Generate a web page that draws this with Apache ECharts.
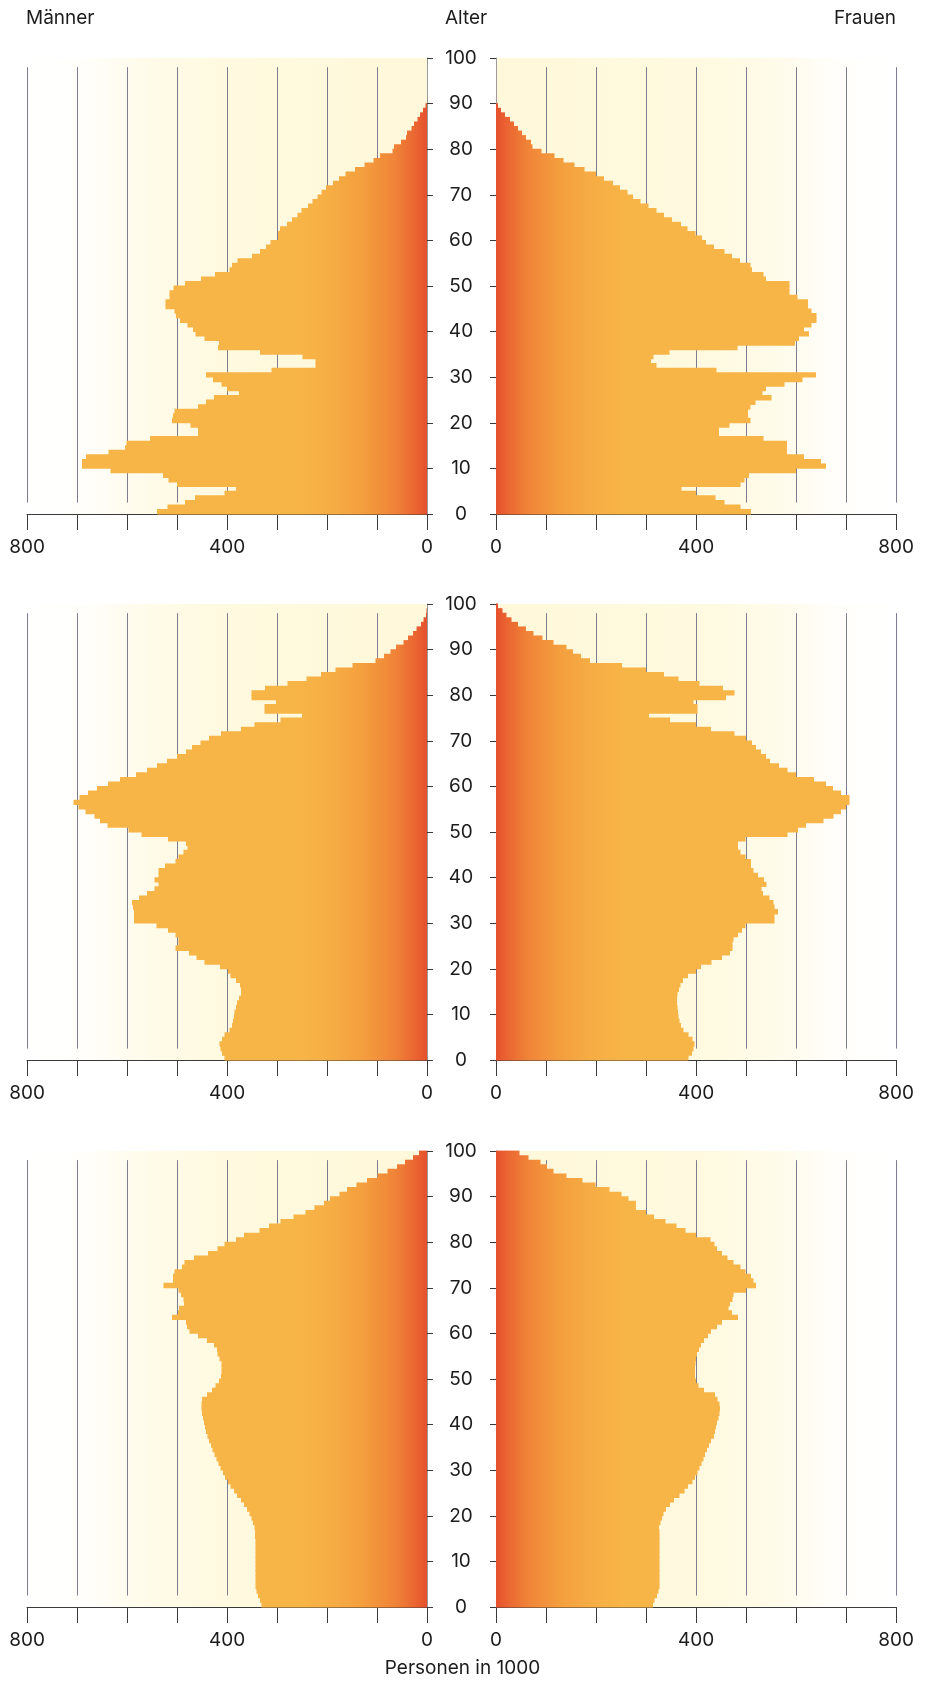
<!DOCTYPE html>
<html>
<head>
<meta charset="utf-8">
<script src="https://cdn.jsdelivr.net/npm/echarts/dist/echarts.min.js"></script>
<style>
html,body{margin:0;padding:0;background:#fff;}
#c{width:925px;height:1683px;}
</style>
</head>
<body>
<div id="c"></div>
<script>
// ---------- DATA (thousands of persons, index = age 0..99) ----------
const men1 = [540,519,484,464,405,382,500,517,528,633,690,690,682,637,604,601,554,458,458,473,510,508,505,458,442,426,376,400,411,428,442,311,223,223,249,334,418,416,445,463,468,479,494,502,505,523,523,515,515,507,484,452,424,395,390,379,350,334,322,313,298,298,294,280,270,259,251,238,229,219,211,202,188,176,163,144,125,107,94,69,66,52,42,40,31,26,19,14,8,3,0,0,0,0,0,0,0,0,0,0];
const women1 = [510,489,457,439,400,371,489,497,506,600,660,650,616,582,582,582,535,446,446,467,509,504,504,509,519,551,533,540,577,613,640,441,321,310,315,347,483,598,606,626,616,631,641,641,631,624,624,603,587,587,587,540,535,512,509,488,472,457,436,420,412,399,383,370,352,336,321,305,289,274,263,248,234,216,200,177,157,135,117,91,73,70,60,52,44,36,28,18,10,4,0,0,0,0,0,0,0,0,0,0];
const men2 = [405,410,413,415,410,405,395,390,388,386,385,382,380,376,372,372,374,382,393,398,414,445,461,476,503,497,497,503,518,541,586,586,586,588,590,576,560,545,537,545,537,537,524,503,497,487,479,482,518,571,597,639,654,665,683,697,707,695,678,660,638,614,582,560,540,520,500,482,470,453,436,412,372,345,293,250,325,325,302,351,351,324,279,241,212,183,149,103,86,73,62,47,38,28,21,12,7,2,1,0];
const women2 = [385,392,395,397,393,385,375,370,367,365,364,363,362,362,363,366,369,374,384,400,410,431,452,468,473,473,475,484,492,499,557,557,564,557,555,547,534,531,541,536,524,515,510,510,499,489,484,484,499,583,604,620,655,675,690,700,707,707,690,674,660,636,600,583,566,548,540,530,520,512,500,477,430,400,348,306,403,403,395,460,477,454,407,365,336,300,252,188,170,154,141,115,93,75,60,44,31,21,13,4];
const men3 = [331,334,338,341,343,343,343,343,343,343,343,343,343,343,343,344,344,345,348,351,355,360,366,372,380,386,393,398,404,408,413,417,421,425,429,432,436,439,442,444,446,448,450,451,451,450,440,430,423,416,412,411,411,411,415,419,420,426,440,458,475,480,482,510,498,496,486,487,492,497,527,508,508,505,490,485,466,438,419,405,382,366,335,316,293,267,243,225,206,194,175,160,141,120,99,79,60,44,28,16];
const women3 = [314,317,322,325,327,327,327,327,327,327,327,327,327,327,327,327,327,326,329,332,335,340,348,356,367,377,384,393,398,403,407,411,415,418,422,426,430,436,438,440,442,445,447,448,447,443,438,416,405,400,398,398,398,399,400,402,406,410,416,424,430,442,452,484,472,465,468,473,475,500,520,515,510,499,489,475,463,452,442,437,429,400,379,361,339,316,300,280,280,265,251,227,199,173,141,115,102,89,65,47];

const ageTicks = [0,10,20,30,40,50,60,70,80,90,100];
const popTicks = [0,100,200,300,400,500,600,700,800];
const popLabels = [0,400,800];
const gridLineValues = [100,200,300,400,500,600,700,800];

const titleLeft = 'Männer';
const titleMid = 'Alter';
const titleRight = 'Frauen';
const xTitle = 'Personen in 1000';

// ---------- LAYOUT / STYLE ----------
const FONT = 'Inter, "DejaVu Sans", sans-serif';
const TXT = '#1c1c1c';
const tops = [58, 604, 1151];
const H = 456, LX = 27, RX = 496, SW = 400;
const GRIDLINE_FROM = 2.5, GRIDLINE_TO = 98;   // age span of the vertical guide lines
const GRAD_SPAN = 260;                          // bar colour ramp length (axis units)

const chart = echarts.init(document.getElementById('c'), null, {renderer: 'canvas', width: 925, height: 1683});

const barStops = [
  {offset: 0, color: '#e5512d'},
  {offset: 0.08, color: '#ea6331'},
  {offset: 0.25, color: '#f08438'},
  {offset: 0.5, color: '#f49f3e'},
  {offset: 0.75, color: '#f6ae44'},
  {offset: 1, color: '#f8b547'}
];
const bgStops = [
  {offset: 0, color: '#ffffff'},
  {offset: 0.15, color: '#fffefa'},
  {offset: 0.32, color: '#fffbe8'},
  {offset: 0.5, color: '#fff9df'},
  {offset: 1, color: '#fff8da'}
];
function bgGradient(isLeft) {
  const stops = isLeft ? bgStops : bgStops.map(s => ({offset: 1 - s.offset, color: s.color})).reverse();
  return new echarts.graphic.LinearGradient(0, 0, 1, 0, stops);
}

const panels = [[men1, women1], [men2, women2], [men3, women3]];
const grids = [], xAxes = [], yAxes = [], series = [];

panels.forEach((p, i) => {
  [0, 1].forEach(side => {
    const idx = i * 2 + side;
    const isLeft = side === 0;
    grids.push({
      left: isLeft ? LX : RX, top: tops[i], width: SW, height: H,
      show: true, borderWidth: 0, backgroundColor: bgGradient(isLeft), containLabel: false
    });
    xAxes.push({
      gridIndex: idx, type: 'value', min: popTicks[0], max: popTicks[popTicks.length - 1],
      interval: popTicks[1] - popTicks[0], inverse: isLeft,
      axisLine: {show: true, onZero: false, lineStyle: {color: '#3a3a3a', width: 1}},
      axisTick: {show: true, length: 16, lineStyle: {color: '#3a3a3a', width: 1}},
      axisLabel: {
        show: true, margin: 24, fontSize: 19, color: TXT, fontFamily: FONT,
        showMinLabel: true, showMaxLabel: true,
        formatter: v => popLabels.indexOf(v) >= 0 ? String(v) : ''
      },
      splitLine: {show: false}
    });
    yAxes.push({
      gridIndex: idx, type: 'value', min: ageTicks[0], max: ageTicks[ageTicks.length - 1],
      interval: ageTicks[1] - ageTicks[0], position: isLeft ? 'right' : 'left',
      axisLine: {show: true, onZero: false, lineStyle: {color: '#9a9a9a', width: 1}},
      axisTick: {show: true, length: 6, lineStyle: {color: '#3a3a3a', width: 1}},
      axisLabel: {
        show: isLeft, align: 'center', margin: 34, fontSize: 19, color: TXT, fontFamily: FONT
      },
      splitLine: {show: false}
    });
    // vertical guide lines
    series.push({
      type: 'custom', xAxisIndex: idx, yAxisIndex: idx, z: 1, silent: true,
      data: gridLineValues.map(v => [v]),
      renderItem: (params, api) => {
        const v = api.value(0);
        const a = api.coord([v, GRIDLINE_FROM]);
        const b = api.coord([v, GRIDLINE_TO]);
        const x = Math.round(a[0]) + 0.5;
        return {type: 'line', shape: {x1: x, y1: a[1], x2: x, y2: b[1]},
                style: {stroke: '#7e7d90', lineWidth: 1}};
      }
    });
    // population bars
    series.push({
      type: 'custom', xAxisIndex: idx, yAxisIndex: idx, z: 2, silent: true,
      data: p[side].map((v, a) => [v, a]),
      renderItem: (params, api) => {
        const v = api.value(0), a = api.value(1);
        if (!v) return null;
        const p0 = api.coord([0, a]);
        const p1 = api.coord([v, a + 1]);
        const g0 = api.coord([0, 0])[0];
        const g1 = api.coord([GRAD_SPAN, 0])[0];
        const x = Math.min(p0[0], p1[0]);
        const w = Math.abs(p1[0] - p0[0]);
        const y = p1[1], h = p0[1] - p1[1];
        return {
          type: 'rect',
          shape: {x: x, y: y - 0.4, width: w, height: h + 0.8},
          style: {fill: new echarts.graphic.LinearGradient(g0, 0, g1, 0, barStops, true)}
        };
      }
    });
  });
});

const option = {
  backgroundColor: '#ffffff',
  animation: false,
  grid: grids,
  xAxis: xAxes,
  yAxis: yAxes,
  series: series,
  graphic: [
    {type: 'text', left: 26, top: 9, style: {text: titleLeft, font: '19px ' + FONT, fill: TXT}},
    {type: 'text', left: 445, top: 9, style: {text: titleMid, font: '19px ' + FONT, fill: TXT}},
    {type: 'text', right: 29, top: 9, style: {text: titleRight, font: '19px ' + FONT, fill: TXT}},
    {type: 'text', left: 'center', top: 1659, style: {text: xTitle, font: '19px ' + FONT, fill: TXT}}
  ]
};
chart.setOption(option);
</script>
</body>
</html>
